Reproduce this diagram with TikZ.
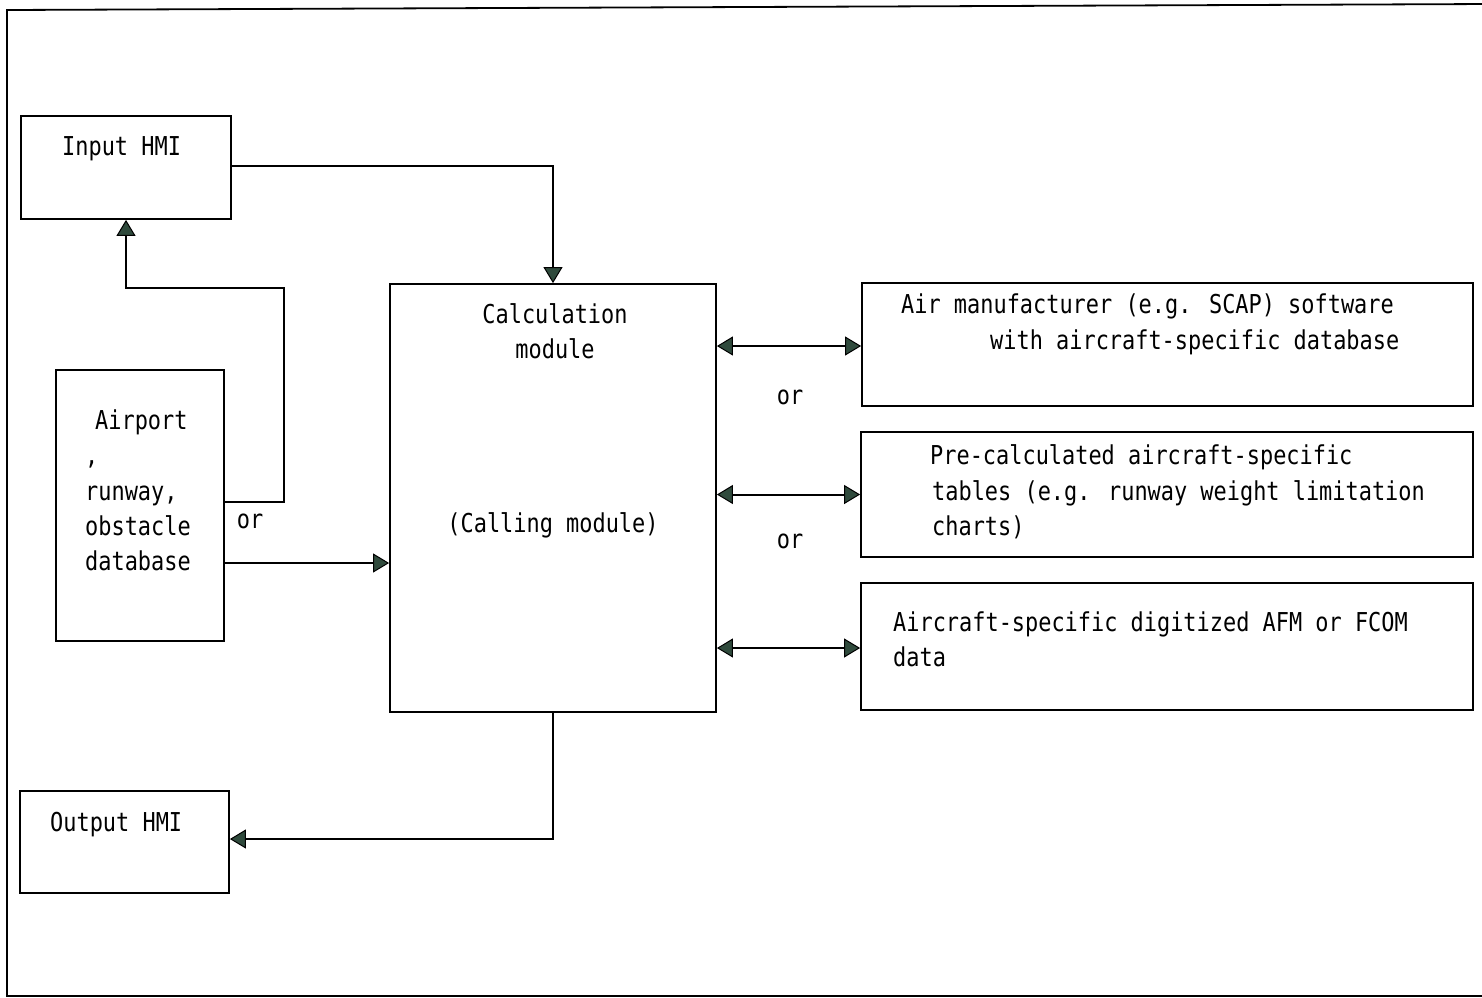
\documentclass[tikz,border=0pt]{standalone}
\usepackage{fontspec}
\setmainfont[FakeStretch=0.843]{DejaVu Sans Mono}
\usetikzlibrary{arrows.meta}
\definecolor{arrowc}{HTML}{2F4A3C}
\tikzset{
  box/.style={draw, line width=1.8pt, rectangle, inner sep=0pt},
  txt/.style={inner sep=0pt, anchor=base west, font=\fontsize{26}{35}\selectfont},
  ctxt/.style={inner sep=0pt, anchor=base, font=\fontsize{26}{35}\selectfont},
  conn/.style={line width=2pt},
  tip/.tip={Triangle[length=16pt,width=19pt,fill=arrowc,line width=1pt]},
  arr/.style={conn, -tip},
  darr/.style={conn, tip-tip}
}
\begin{document}
\begin{tikzpicture}[x=1pt,y=-1pt]
\useasboundingbox (0,0) rectangle (1482,997);
% outer frame
\draw[line width=1.8pt] (1490,4) -- (7,10) -- (7,996) -- (1490,996);

% boxes
\node[box, minimum width=210pt, minimum height=103pt] (inp) at (126,167.5) {};
\node[box, minimum width=168pt, minimum height=271pt] (air) at (140,505.5) {};
\node[box, minimum width=326pt, minimum height=428pt] (calc) at (553,498) {};
\node[box, minimum width=209pt, minimum height=102pt] (out) at (124.5,842) {};
\node[box, minimum width=611pt, minimum height=123pt] (r1) at (1167.5,344.5) {};
\node[box, minimum width=612pt, minimum height=125pt] (r2) at (1167,494.5) {};
\node[box, minimum width=612pt, minimum height=127pt] (r3) at (1167,646.5) {};

% texts
\node[txt] (tinp) at (62,155) {Input HMI};
\node[txt] (tair1) at (95,429) {Airport};
\node[txt] (tair2) at (85,464) {,};
\node[txt] (tair3) at (85,500) {runway,};
\node[txt] (tair4) at (85,535) {obstacle};
\node[txt] (tair5) at (85,570) {database};
\node[ctxt] (tcalc1) at (555,323) {Calculation};
\node[ctxt] (tcalc2) at (555,358) {module};
\node[ctxt] (tcalc3) at (553,532) {(Calling module)};
\node[txt] (tout) at (50,831) {Output HMI};
\node[txt] (tr1a) at (901,313) {Air manufacturer (e.g. SCAP) software};
\node[txt] (tr1b) at (990,349) {with aircraft-specific database};
\node[txt] (tr2a) at (930,464) {Pre-calculated aircraft-specific};
\node[txt] (tr2b) at (932,500) {tables (e.g. runway weight limitation};
\node[txt] (tr2c) at (932,535) {charts)};
\node[txt] (tr3a) at (893,631) {Aircraft-specific digitized AFM or FCOM};
\node[txt] (tr3b) at (893,666) {data};
\node[ctxt] (or1) at (790,404) {or};
\node[ctxt] (or2) at (790,548) {or};
\node[ctxt] (or3) at (250,528) {or};

% connectors
\draw[arr] (inp.east |- 0,166) -| (calc.north);
\draw[arr] (air.east |- 0,502) -- (284,502) -- (284,288) -| (inp.south);
\draw[arr] (air.east |- 0,563) -- (calc.west |- 0,563);
\draw[arr] (calc.south) |- (out.east |- 0,839);
\draw[darr] (calc.east |- 0,346) -- (r1.west |- 0,346);
\draw[darr] (calc.east |- r2.west) -- (r2.west);
\draw[darr] (calc.east |- 0,648) -- (r3.west |- 0,648);
\end{tikzpicture}
\end{document}
